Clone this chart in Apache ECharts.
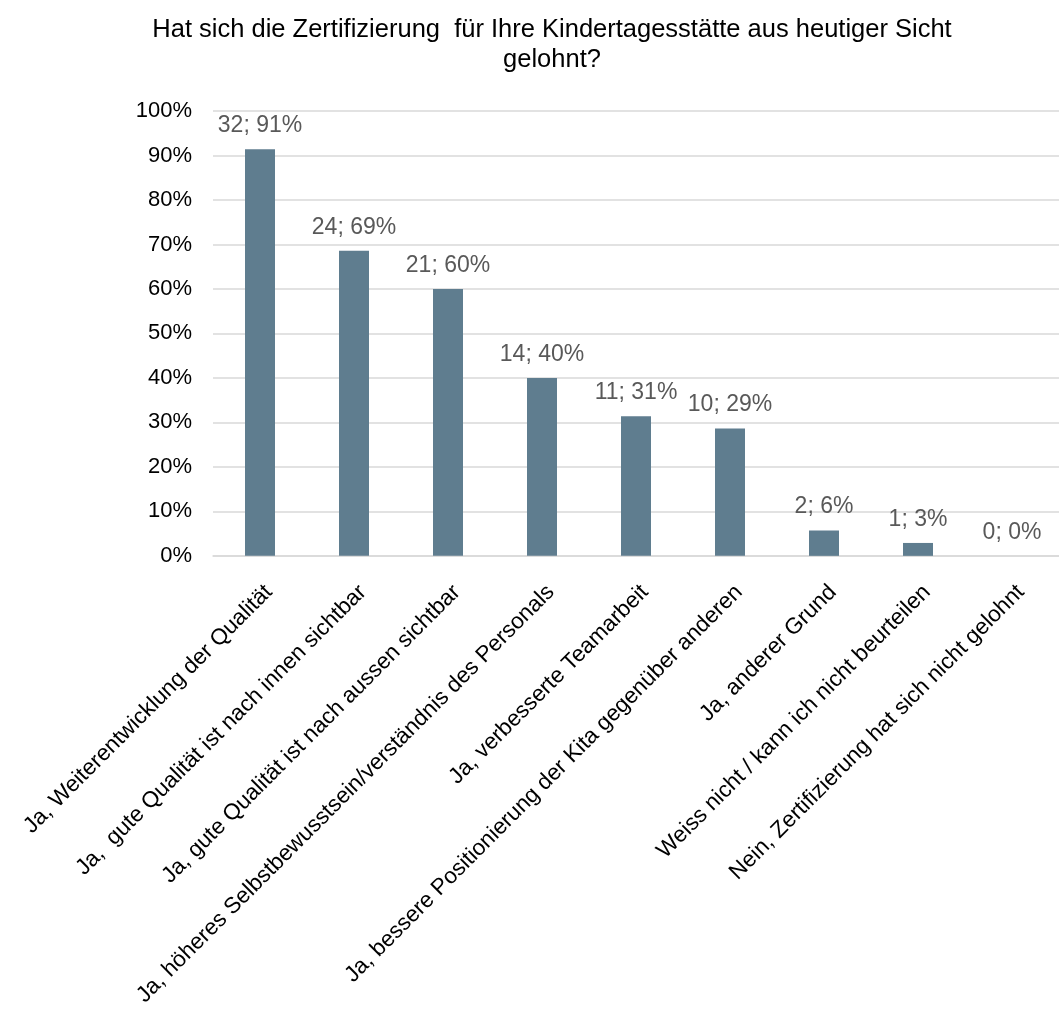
<!DOCTYPE html>
<html>
<head>
<meta charset="utf-8">
<script src="https://cdn.jsdelivr.net/npm/echarts@6/dist/echarts.min.js"></script>
<style>
  html, body { margin: 0; padding: 0; background: #fff; }
  #chart { width: 1059px; height: 1010px; }
</style>
</head>
<body>
<div id="chart"></div>
<script>
// Antworten (Kategorien)
var categories = [
    'Ja, Weiterentwicklung der Qualität',
    'Ja,  gute Qualität ist nach innen sichtbar',
    'Ja, gute Qualität ist nach aussen sichtbar',
    'Ja, höheres Selbstbewusstsein/verständnis des Personals',
    'Ja, verbesserte Teamarbeit',
    'Ja, bessere Positionierung der Kita gegenüber anderen',
    'Ja, anderer Grund',
    'Weiss nicht / kann ich nicht beurteilen',
    'Nein, Zertifizierung hat sich nicht gelohnt'
];
// Anzahl Nennungen
var counts = [32, 24, 21, 14, 11, 10, 2, 1, 0];
// Anteil in Prozent
var percents = [91.4, 68.6, 60, 40, 31.4, 28.6, 5.7, 2.9, 0];
// Achsenbeschriftung
var yTicks = [0, 10, 20, 30, 40, 50, 60, 70, 80, 90, 100];

var font = 'Arial, "Liberation Sans", sans-serif';
var chart = echarts.init(document.getElementById('chart'));

var option = {
    backgroundColor: '#fff',
    animation: false,
    title: {
        text: 'Hat sich die Zertifizierung  für Ihre Kindertagesstätte aus heutiger Sicht\ngelohnt?',
        left: 547,
        top: 10,
        textAlign: 'center',
        textStyle: {
            color: '#000',
            fontFamily: font,
            fontSize: 25.5,
            fontWeight: 'normal',
            lineHeight: 30
        }
    },
    grid: {
        left: 213,
        right: -14,
        top: 111,
        bottom: 454
    },
    xAxis: {
        type: 'category',
        data: categories,
        axisLine: { lineStyle: { color: '#d9d9d9', width: 1.5 } },
        axisTick: { show: false },
        axisLabel: {
            interval: 0,
            rotate: 45,
            margin: 24,
            verticalAlign: 'top',
            lineHeight: 25,
            color: '#000',
            fontFamily: font,
            fontSize: 22.5
        }
    },
    yAxis: {
        type: 'value',
        min: yTicks[0],
        max: yTicks[yTicks.length - 1],
        interval: 10,
        axisLine: { show: false },
        axisTick: { show: false },
        splitLine: { lineStyle: { color: '#d9d9d9', width: 1.5 } },
        axisLabel: {
            margin: 21,
            color: '#000',
            fontFamily: font,
            fontSize: 22,
            formatter: '{value}%'
        }
    },
    series: [{
        type: 'bar',
        data: percents,
        barWidth: 30,
        itemStyle: { color: '#5f7d8f' },
        label: {
            show: true,
            position: 'top',
            distance: 12,
            color: '#595959',
            fontFamily: font,
            fontSize: 23,
            formatter: function (p) {
                return counts[p.dataIndex] + '; ' + Math.round(percents[p.dataIndex]) + '%';
            }
        }
    }]
};

chart.setOption(option);
</script>
</body>
</html>
